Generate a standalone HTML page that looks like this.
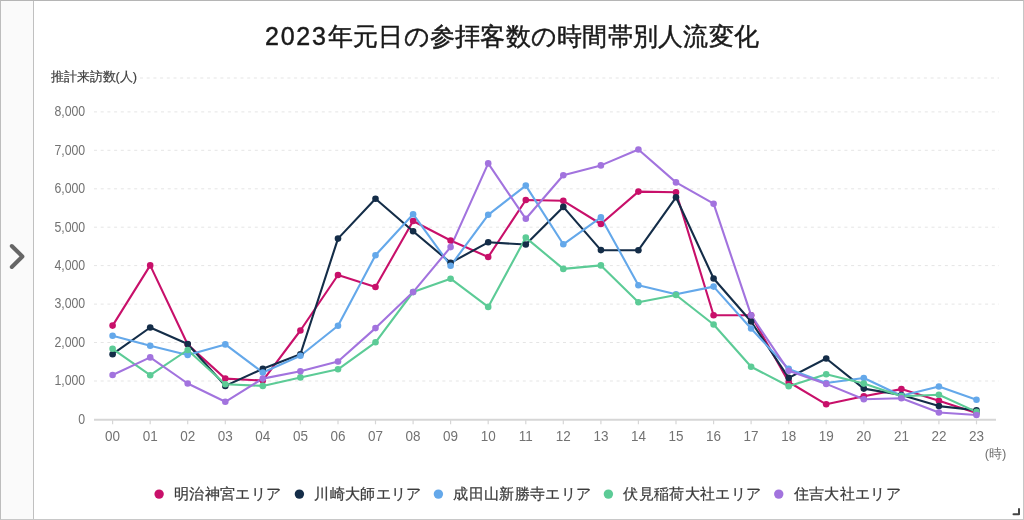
<!DOCTYPE html>
<html lang="ja"><head><meta charset="utf-8">
<style>
html,body{margin:0;padding:0;}
body{width:1024px;height:520px;overflow:hidden;background:#fff;font-family:"Liberation Sans",sans-serif;position:relative;}
#frame{position:absolute;left:0;top:0;width:1022px;height:518px;border:1px solid #bdbdbd;border-top-color:#b5b5b5;border-right-color:#c6c6c6;border-bottom-color:#c8c8c8;}
#side{position:absolute;left:1px;top:1px;width:33px;height:518px;box-sizing:border-box;background:#fafafa;border-right:1px solid #c0c0c0;}
svg{position:absolute;left:0;top:0;will-change:transform;}
.yt{font-size:14px;fill:#727272;}
.xt{font-size:14.5px;fill:#727272;}
.yl{font-size:12.8px;fill:#404040;stroke:#404040;stroke-width:0.2px;}
.lg{font-size:15px;letter-spacing:0.35px;fill:#3c3c3c;stroke:#3c3c3c;stroke-width:0.25px;}
.ti{font-size:25px;letter-spacing:0.25px;fill:#1a1a1a;stroke:#1a1a1a;stroke-width:0.45px;}
</style></head><body>
<div id="frame"></div>
<div id="side"></div>
<svg width="1024" height="520" viewBox="0 0 1024 520">
<path d="M11.8 246 L22.4 256.5 L11.8 267" fill="none" stroke="#666666" stroke-width="4" stroke-linecap="round" stroke-linejoin="round"/>
<text x="512" y="44.5" text-anchor="middle" class="ti"><tspan style="letter-spacing:1.8px">2023</tspan>年元日の参拝客数の時間帯別人流変化</text>
<line x1="94" y1="381.0" x2="999" y2="381.0" stroke="#e5e5e5" stroke-width="1" stroke-dasharray="3 3.7"/>
<text transform="translate(85.2,385.3) scale(0.88,1)" text-anchor="end" class="yt">1,000</text>
<line x1="94" y1="342.5" x2="999" y2="342.5" stroke="#e5e5e5" stroke-width="1" stroke-dasharray="3 3.7"/>
<text transform="translate(85.2,346.8) scale(0.88,1)" text-anchor="end" class="yt">2,000</text>
<line x1="94" y1="304.1" x2="999" y2="304.1" stroke="#e5e5e5" stroke-width="1" stroke-dasharray="3 3.7"/>
<text transform="translate(85.2,308.4) scale(0.88,1)" text-anchor="end" class="yt">3,000</text>
<line x1="94" y1="265.6" x2="999" y2="265.6" stroke="#e5e5e5" stroke-width="1" stroke-dasharray="3 3.7"/>
<text transform="translate(85.2,269.9) scale(0.88,1)" text-anchor="end" class="yt">4,000</text>
<line x1="94" y1="227.2" x2="999" y2="227.2" stroke="#e5e5e5" stroke-width="1" stroke-dasharray="3 3.7"/>
<text transform="translate(85.2,231.5) scale(0.88,1)" text-anchor="end" class="yt">5,000</text>
<line x1="94" y1="188.8" x2="999" y2="188.8" stroke="#e5e5e5" stroke-width="1" stroke-dasharray="3 3.7"/>
<text transform="translate(85.2,193.1) scale(0.88,1)" text-anchor="end" class="yt">6,000</text>
<line x1="94" y1="150.3" x2="999" y2="150.3" stroke="#e5e5e5" stroke-width="1" stroke-dasharray="3 3.7"/>
<text transform="translate(85.2,154.6) scale(0.88,1)" text-anchor="end" class="yt">7,000</text>
<line x1="94" y1="111.9" x2="999" y2="111.9" stroke="#e5e5e5" stroke-width="1" stroke-dasharray="3 3.7"/>
<text transform="translate(85.2,116.2) scale(0.88,1)" text-anchor="end" class="yt">8,000</text>
<line x1="140" y1="78" x2="999" y2="78" stroke="#e5e5e5" stroke-width="1" stroke-dasharray="3 3.7"/>
<text transform="translate(85.2,423.7) scale(0.88,1)" text-anchor="end" class="yt">0</text>
<line x1="94" y1="419.7" x2="996" y2="419.7" stroke="#d6d6d6" stroke-width="2"/>
<line x1="112.6" y1="419.7" x2="112.6" y2="424.3" stroke="#d6d6d6" stroke-width="1.2"/>
<text transform="translate(112.6,440.5) scale(0.93,1)" text-anchor="middle" class="xt">00</text>
<line x1="150.2" y1="419.7" x2="150.2" y2="424.3" stroke="#d6d6d6" stroke-width="1.2"/>
<text transform="translate(150.2,440.5) scale(0.93,1)" text-anchor="middle" class="xt">01</text>
<line x1="187.7" y1="419.7" x2="187.7" y2="424.3" stroke="#d6d6d6" stroke-width="1.2"/>
<text transform="translate(187.7,440.5) scale(0.93,1)" text-anchor="middle" class="xt">02</text>
<line x1="225.3" y1="419.7" x2="225.3" y2="424.3" stroke="#d6d6d6" stroke-width="1.2"/>
<text transform="translate(225.3,440.5) scale(0.93,1)" text-anchor="middle" class="xt">03</text>
<line x1="262.8" y1="419.7" x2="262.8" y2="424.3" stroke="#d6d6d6" stroke-width="1.2"/>
<text transform="translate(262.8,440.5) scale(0.93,1)" text-anchor="middle" class="xt">04</text>
<line x1="300.4" y1="419.7" x2="300.4" y2="424.3" stroke="#d6d6d6" stroke-width="1.2"/>
<text transform="translate(300.4,440.5) scale(0.93,1)" text-anchor="middle" class="xt">05</text>
<line x1="338.0" y1="419.7" x2="338.0" y2="424.3" stroke="#d6d6d6" stroke-width="1.2"/>
<text transform="translate(338.0,440.5) scale(0.93,1)" text-anchor="middle" class="xt">06</text>
<line x1="375.5" y1="419.7" x2="375.5" y2="424.3" stroke="#d6d6d6" stroke-width="1.2"/>
<text transform="translate(375.5,440.5) scale(0.93,1)" text-anchor="middle" class="xt">07</text>
<line x1="413.1" y1="419.7" x2="413.1" y2="424.3" stroke="#d6d6d6" stroke-width="1.2"/>
<text transform="translate(413.1,440.5) scale(0.93,1)" text-anchor="middle" class="xt">08</text>
<line x1="450.6" y1="419.7" x2="450.6" y2="424.3" stroke="#d6d6d6" stroke-width="1.2"/>
<text transform="translate(450.6,440.5) scale(0.93,1)" text-anchor="middle" class="xt">09</text>
<line x1="488.2" y1="419.7" x2="488.2" y2="424.3" stroke="#d6d6d6" stroke-width="1.2"/>
<text transform="translate(488.2,440.5) scale(0.93,1)" text-anchor="middle" class="xt">10</text>
<line x1="525.8" y1="419.7" x2="525.8" y2="424.3" stroke="#d6d6d6" stroke-width="1.2"/>
<text transform="translate(525.8,440.5) scale(0.93,1)" text-anchor="middle" class="xt">11</text>
<line x1="563.3" y1="419.7" x2="563.3" y2="424.3" stroke="#d6d6d6" stroke-width="1.2"/>
<text transform="translate(563.3,440.5) scale(0.93,1)" text-anchor="middle" class="xt">12</text>
<line x1="600.9" y1="419.7" x2="600.9" y2="424.3" stroke="#d6d6d6" stroke-width="1.2"/>
<text transform="translate(600.9,440.5) scale(0.93,1)" text-anchor="middle" class="xt">13</text>
<line x1="638.4" y1="419.7" x2="638.4" y2="424.3" stroke="#d6d6d6" stroke-width="1.2"/>
<text transform="translate(638.4,440.5) scale(0.93,1)" text-anchor="middle" class="xt">14</text>
<line x1="676.0" y1="419.7" x2="676.0" y2="424.3" stroke="#d6d6d6" stroke-width="1.2"/>
<text transform="translate(676.0,440.5) scale(0.93,1)" text-anchor="middle" class="xt">15</text>
<line x1="713.6" y1="419.7" x2="713.6" y2="424.3" stroke="#d6d6d6" stroke-width="1.2"/>
<text transform="translate(713.6,440.5) scale(0.93,1)" text-anchor="middle" class="xt">16</text>
<line x1="751.1" y1="419.7" x2="751.1" y2="424.3" stroke="#d6d6d6" stroke-width="1.2"/>
<text transform="translate(751.1,440.5) scale(0.93,1)" text-anchor="middle" class="xt">17</text>
<line x1="788.7" y1="419.7" x2="788.7" y2="424.3" stroke="#d6d6d6" stroke-width="1.2"/>
<text transform="translate(788.7,440.5) scale(0.93,1)" text-anchor="middle" class="xt">18</text>
<line x1="826.2" y1="419.7" x2="826.2" y2="424.3" stroke="#d6d6d6" stroke-width="1.2"/>
<text transform="translate(826.2,440.5) scale(0.93,1)" text-anchor="middle" class="xt">19</text>
<line x1="863.8" y1="419.7" x2="863.8" y2="424.3" stroke="#d6d6d6" stroke-width="1.2"/>
<text transform="translate(863.8,440.5) scale(0.93,1)" text-anchor="middle" class="xt">20</text>
<line x1="901.4" y1="419.7" x2="901.4" y2="424.3" stroke="#d6d6d6" stroke-width="1.2"/>
<text transform="translate(901.4,440.5) scale(0.93,1)" text-anchor="middle" class="xt">21</text>
<line x1="938.9" y1="419.7" x2="938.9" y2="424.3" stroke="#d6d6d6" stroke-width="1.2"/>
<text transform="translate(938.9,440.5) scale(0.93,1)" text-anchor="middle" class="xt">22</text>
<line x1="976.5" y1="419.7" x2="976.5" y2="424.3" stroke="#d6d6d6" stroke-width="1.2"/>
<text transform="translate(976.5,440.5) scale(0.93,1)" text-anchor="middle" class="xt">23</text>
<text transform="translate(995.6,458.3) scale(1,1)" text-anchor="middle" class="xt" style="font-size:13px">(時)</text>
<text x="50.5" y="81" class="yl">推計来訪数(人)</text>
<polyline points="112.6,325.6 150.2,265.4 187.7,344.5 225.3,378.6 262.8,380.6 300.4,330.5 338.0,275.0 375.5,287.0 413.1,221.0 450.6,240.5 488.2,257.0 525.8,200.0 563.3,200.8 600.9,224.0 638.4,191.6 676.0,192.2 713.6,315.3 751.1,315.3 788.7,382.0 826.2,404.3 863.8,396.2 901.4,389.1 938.9,400.8 976.5,413.0" fill="none" stroke="#c8106a" stroke-width="2.1" stroke-linejoin="round"/>
<polyline points="112.6,354.2 150.2,327.5 187.7,344.0 225.3,385.9 262.8,368.8 300.4,354.2 338.0,238.6 375.5,198.8 413.1,231.3 450.6,262.8 488.2,242.3 525.8,244.5 563.3,206.9 600.9,250.1 638.4,250.2 676.0,197.3 713.6,278.5 751.1,321.5 788.7,377.9 826.2,358.5 863.8,388.6 901.4,395.0 938.9,406.1 976.5,410.2" fill="none" stroke="#142d48" stroke-width="2.1" stroke-linejoin="round"/>
<polyline points="112.6,335.8 150.2,345.7 187.7,354.9 225.3,344.4 262.8,372.5 300.4,355.7 338.0,325.7 375.5,255.3 413.1,214.2 450.6,265.8 488.2,214.8 525.8,185.6 563.3,244.3 600.9,217.4 638.4,285.2 676.0,294.3 713.6,286.6 751.1,328.5 788.7,368.9 826.2,383.0 863.8,378.0 901.4,395.8 938.9,386.5 976.5,399.7" fill="none" stroke="#64a8ea" stroke-width="2.1" stroke-linejoin="round"/>
<polyline points="112.6,348.8 150.2,375.2 187.7,350.0 225.3,384.2 262.8,385.9 300.4,377.4 338.0,369.3 375.5,342.3 413.1,292.0 450.6,278.7 488.2,306.9 525.8,237.6 563.3,268.9 600.9,265.4 638.4,302.3 676.0,295.0 713.6,324.5 751.1,366.8 788.7,386.2 826.2,374.2 863.8,383.6 901.4,396.2 938.9,394.8 976.5,411.9" fill="none" stroke="#5ccb96" stroke-width="2.1" stroke-linejoin="round"/>
<polyline points="112.6,375.0 150.2,357.4 187.7,383.5 225.3,401.8 262.8,378.6 300.4,371.3 338.0,361.5 375.5,328.1 413.1,292.1 450.6,247.1 488.2,163.4 525.8,218.8 563.3,175.2 600.9,165.4 638.4,149.5 676.0,182.4 713.6,203.7 751.1,315.2 788.7,370.8 826.2,383.9 863.8,399.3 901.4,398.2 938.9,412.5 976.5,415.0" fill="none" stroke="#a273de" stroke-width="2.1" stroke-linejoin="round"/>
<circle cx="112.6" cy="325.6" r="3.3" fill="#c8106a"/>
<circle cx="150.2" cy="265.4" r="3.3" fill="#c8106a"/>
<circle cx="187.7" cy="344.5" r="3.3" fill="#c8106a"/>
<circle cx="225.3" cy="378.6" r="3.3" fill="#c8106a"/>
<circle cx="262.8" cy="380.6" r="3.3" fill="#c8106a"/>
<circle cx="300.4" cy="330.5" r="3.3" fill="#c8106a"/>
<circle cx="338.0" cy="275.0" r="3.3" fill="#c8106a"/>
<circle cx="375.5" cy="287.0" r="3.3" fill="#c8106a"/>
<circle cx="413.1" cy="221.0" r="3.3" fill="#c8106a"/>
<circle cx="450.6" cy="240.5" r="3.3" fill="#c8106a"/>
<circle cx="488.2" cy="257.0" r="3.3" fill="#c8106a"/>
<circle cx="525.8" cy="200.0" r="3.3" fill="#c8106a"/>
<circle cx="563.3" cy="200.8" r="3.3" fill="#c8106a"/>
<circle cx="600.9" cy="224.0" r="3.3" fill="#c8106a"/>
<circle cx="638.4" cy="191.6" r="3.3" fill="#c8106a"/>
<circle cx="676.0" cy="192.2" r="3.3" fill="#c8106a"/>
<circle cx="713.6" cy="315.3" r="3.3" fill="#c8106a"/>
<circle cx="751.1" cy="315.3" r="3.3" fill="#c8106a"/>
<circle cx="788.7" cy="382.0" r="3.3" fill="#c8106a"/>
<circle cx="826.2" cy="404.3" r="3.3" fill="#c8106a"/>
<circle cx="863.8" cy="396.2" r="3.3" fill="#c8106a"/>
<circle cx="901.4" cy="389.1" r="3.3" fill="#c8106a"/>
<circle cx="938.9" cy="400.8" r="3.3" fill="#c8106a"/>
<circle cx="976.5" cy="413.0" r="3.3" fill="#c8106a"/>
<circle cx="112.6" cy="354.2" r="3.3" fill="#142d48"/>
<circle cx="150.2" cy="327.5" r="3.3" fill="#142d48"/>
<circle cx="187.7" cy="344.0" r="3.3" fill="#142d48"/>
<circle cx="225.3" cy="385.9" r="3.3" fill="#142d48"/>
<circle cx="262.8" cy="368.8" r="3.3" fill="#142d48"/>
<circle cx="300.4" cy="354.2" r="3.3" fill="#142d48"/>
<circle cx="338.0" cy="238.6" r="3.3" fill="#142d48"/>
<circle cx="375.5" cy="198.8" r="3.3" fill="#142d48"/>
<circle cx="413.1" cy="231.3" r="3.3" fill="#142d48"/>
<circle cx="450.6" cy="262.8" r="3.3" fill="#142d48"/>
<circle cx="488.2" cy="242.3" r="3.3" fill="#142d48"/>
<circle cx="525.8" cy="244.5" r="3.3" fill="#142d48"/>
<circle cx="563.3" cy="206.9" r="3.3" fill="#142d48"/>
<circle cx="600.9" cy="250.1" r="3.3" fill="#142d48"/>
<circle cx="638.4" cy="250.2" r="3.3" fill="#142d48"/>
<circle cx="676.0" cy="197.3" r="3.3" fill="#142d48"/>
<circle cx="713.6" cy="278.5" r="3.3" fill="#142d48"/>
<circle cx="751.1" cy="321.5" r="3.3" fill="#142d48"/>
<circle cx="788.7" cy="377.9" r="3.3" fill="#142d48"/>
<circle cx="826.2" cy="358.5" r="3.3" fill="#142d48"/>
<circle cx="863.8" cy="388.6" r="3.3" fill="#142d48"/>
<circle cx="901.4" cy="395.0" r="3.3" fill="#142d48"/>
<circle cx="938.9" cy="406.1" r="3.3" fill="#142d48"/>
<circle cx="976.5" cy="410.2" r="3.3" fill="#142d48"/>
<circle cx="112.6" cy="335.8" r="3.3" fill="#64a8ea"/>
<circle cx="150.2" cy="345.7" r="3.3" fill="#64a8ea"/>
<circle cx="187.7" cy="354.9" r="3.3" fill="#64a8ea"/>
<circle cx="225.3" cy="344.4" r="3.3" fill="#64a8ea"/>
<circle cx="262.8" cy="372.5" r="3.3" fill="#64a8ea"/>
<circle cx="300.4" cy="355.7" r="3.3" fill="#64a8ea"/>
<circle cx="338.0" cy="325.7" r="3.3" fill="#64a8ea"/>
<circle cx="375.5" cy="255.3" r="3.3" fill="#64a8ea"/>
<circle cx="413.1" cy="214.2" r="3.3" fill="#64a8ea"/>
<circle cx="450.6" cy="265.8" r="3.3" fill="#64a8ea"/>
<circle cx="488.2" cy="214.8" r="3.3" fill="#64a8ea"/>
<circle cx="525.8" cy="185.6" r="3.3" fill="#64a8ea"/>
<circle cx="563.3" cy="244.3" r="3.3" fill="#64a8ea"/>
<circle cx="600.9" cy="217.4" r="3.3" fill="#64a8ea"/>
<circle cx="638.4" cy="285.2" r="3.3" fill="#64a8ea"/>
<circle cx="676.0" cy="294.3" r="3.3" fill="#64a8ea"/>
<circle cx="713.6" cy="286.6" r="3.3" fill="#64a8ea"/>
<circle cx="751.1" cy="328.5" r="3.3" fill="#64a8ea"/>
<circle cx="788.7" cy="368.9" r="3.3" fill="#64a8ea"/>
<circle cx="826.2" cy="383.0" r="3.3" fill="#64a8ea"/>
<circle cx="863.8" cy="378.0" r="3.3" fill="#64a8ea"/>
<circle cx="901.4" cy="395.8" r="3.3" fill="#64a8ea"/>
<circle cx="938.9" cy="386.5" r="3.3" fill="#64a8ea"/>
<circle cx="976.5" cy="399.7" r="3.3" fill="#64a8ea"/>
<circle cx="112.6" cy="348.8" r="3.3" fill="#5ccb96"/>
<circle cx="150.2" cy="375.2" r="3.3" fill="#5ccb96"/>
<circle cx="187.7" cy="350.0" r="3.3" fill="#5ccb96"/>
<circle cx="225.3" cy="384.2" r="3.3" fill="#5ccb96"/>
<circle cx="262.8" cy="385.9" r="3.3" fill="#5ccb96"/>
<circle cx="300.4" cy="377.4" r="3.3" fill="#5ccb96"/>
<circle cx="338.0" cy="369.3" r="3.3" fill="#5ccb96"/>
<circle cx="375.5" cy="342.3" r="3.3" fill="#5ccb96"/>
<circle cx="413.1" cy="292.0" r="3.3" fill="#5ccb96"/>
<circle cx="450.6" cy="278.7" r="3.3" fill="#5ccb96"/>
<circle cx="488.2" cy="306.9" r="3.3" fill="#5ccb96"/>
<circle cx="525.8" cy="237.6" r="3.3" fill="#5ccb96"/>
<circle cx="563.3" cy="268.9" r="3.3" fill="#5ccb96"/>
<circle cx="600.9" cy="265.4" r="3.3" fill="#5ccb96"/>
<circle cx="638.4" cy="302.3" r="3.3" fill="#5ccb96"/>
<circle cx="676.0" cy="295.0" r="3.3" fill="#5ccb96"/>
<circle cx="713.6" cy="324.5" r="3.3" fill="#5ccb96"/>
<circle cx="751.1" cy="366.8" r="3.3" fill="#5ccb96"/>
<circle cx="788.7" cy="386.2" r="3.3" fill="#5ccb96"/>
<circle cx="826.2" cy="374.2" r="3.3" fill="#5ccb96"/>
<circle cx="863.8" cy="383.6" r="3.3" fill="#5ccb96"/>
<circle cx="901.4" cy="396.2" r="3.3" fill="#5ccb96"/>
<circle cx="938.9" cy="394.8" r="3.3" fill="#5ccb96"/>
<circle cx="976.5" cy="411.9" r="3.3" fill="#5ccb96"/>
<circle cx="112.6" cy="375.0" r="3.3" fill="#a273de"/>
<circle cx="150.2" cy="357.4" r="3.3" fill="#a273de"/>
<circle cx="187.7" cy="383.5" r="3.3" fill="#a273de"/>
<circle cx="225.3" cy="401.8" r="3.3" fill="#a273de"/>
<circle cx="262.8" cy="378.6" r="3.3" fill="#a273de"/>
<circle cx="300.4" cy="371.3" r="3.3" fill="#a273de"/>
<circle cx="338.0" cy="361.5" r="3.3" fill="#a273de"/>
<circle cx="375.5" cy="328.1" r="3.3" fill="#a273de"/>
<circle cx="413.1" cy="292.1" r="3.3" fill="#a273de"/>
<circle cx="450.6" cy="247.1" r="3.3" fill="#a273de"/>
<circle cx="488.2" cy="163.4" r="3.3" fill="#a273de"/>
<circle cx="525.8" cy="218.8" r="3.3" fill="#a273de"/>
<circle cx="563.3" cy="175.2" r="3.3" fill="#a273de"/>
<circle cx="600.9" cy="165.4" r="3.3" fill="#a273de"/>
<circle cx="638.4" cy="149.5" r="3.3" fill="#a273de"/>
<circle cx="676.0" cy="182.4" r="3.3" fill="#a273de"/>
<circle cx="713.6" cy="203.7" r="3.3" fill="#a273de"/>
<circle cx="751.1" cy="315.2" r="3.3" fill="#a273de"/>
<circle cx="788.7" cy="370.8" r="3.3" fill="#a273de"/>
<circle cx="826.2" cy="383.9" r="3.3" fill="#a273de"/>
<circle cx="863.8" cy="399.3" r="3.3" fill="#a273de"/>
<circle cx="901.4" cy="398.2" r="3.3" fill="#a273de"/>
<circle cx="938.9" cy="412.5" r="3.3" fill="#a273de"/>
<circle cx="976.5" cy="415.0" r="3.3" fill="#a273de"/>
<circle cx="159.1" cy="494.1" r="4.7" fill="#c8106a"/>
<text x="174.1" y="498.8" class="lg">明治神宮エリア</text>
<circle cx="299.4" cy="494.1" r="4.7" fill="#142d48"/>
<text x="314.4" y="498.8" class="lg">川崎大師エリア</text>
<circle cx="438.4" cy="494.1" r="4.7" fill="#64a8ea"/>
<text x="453.4" y="498.8" class="lg">成田山新勝寺エリア</text>
<circle cx="608.4" cy="494.1" r="4.7" fill="#5ccb96"/>
<text x="623.4" y="498.8" class="lg">伏見稲荷大社エリア</text>
<circle cx="778.75" cy="494.1" r="4.7" fill="#a273de"/>
<text x="793.75" y="498.8" class="lg">住吉大社エリア</text>
<path d="M1013.5 514.3 L1019 514.3 L1019 509" fill="none" stroke="#444" stroke-width="2" stroke-linecap="round" stroke-linejoin="round"/>
</svg>
</body></html>
